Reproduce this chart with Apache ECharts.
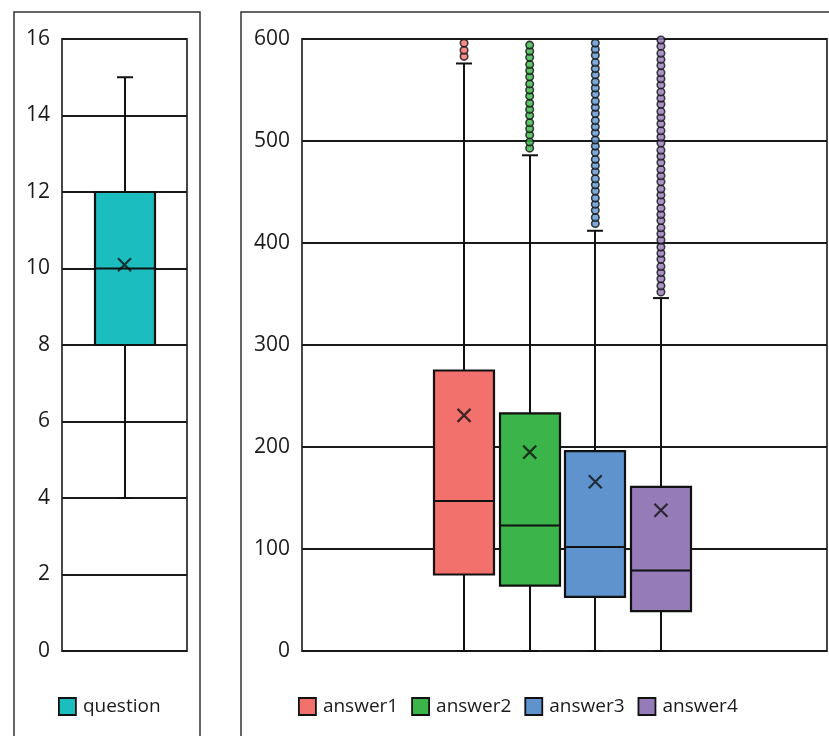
<!DOCTYPE html>
<html>
<head>
<meta charset="utf-8">
<script src="https://cdn.jsdelivr.net/npm/echarts@6/dist/echarts.min.js"></script>
<style>
  html, body { margin: 0; padding: 0; background: #fff; }
  #chart { width: 829px; height: 736px; }
</style>
</head>
<body>
<div id="chart"></div>
<script>
// left panel
const questionName = 'question';
const questionStats = [4, 8, 10, 12, 15]; // min, q1, median, q3, max
const questionMean = 10.1;
const leftTicks = [0, 16, 2];

// right panel: 8 slots on the category axis, the boxes sit in slots 2..5
const slots = ['s0', 's1', 's2', 's3', 's4', 's5', 's6', 's7'];
const answerNames = ['answer1', 'answer2', 'answer3', 'answer4'];
const answerSlots = [2, 3, 4, 5];
const answerMin = [0, 0, 0, 0];
const answerQ1 = [75, 64, 53, 39];
const answerMedian = [147, 123, 102, 79];
const answerQ3 = [275, 233, 196, 161];
const answerMax = [576, 486, 412, 346];
const answerMean = [231, 195, 166, 138];
const rightTicks = [0, 600, 100];

// outliers (the columns run on past 600, only this part is visible)
const outliers1 = [583, 589, 596, 602];
const outliers2 = [493, 499, 506, 512, 518, 525, 531, 537, 544, 550, 556, 563, 569, 575, 582, 588, 594, 601];
const outliers3 = [419, 425, 432, 438, 444, 451, 457, 463, 470, 476, 482, 489, 495, 501, 508, 514, 520, 527,
  533, 539, 546, 552, 558, 565, 571, 577, 584, 590, 596, 603];
const outliers4 = [352, 358, 365, 371, 377, 384, 390, 396, 403, 409, 415, 422, 428, 434, 441, 447, 453, 460,
  466, 472, 479, 485, 491, 498, 504, 510, 517, 523, 529, 536, 542, 548, 555, 561, 567, 574, 580, 586, 593, 599];
const answerOutliers = [outliers1, outliers2, outliers3, outliers4];

const questionColor = '#1bbdbf';
const answerColors = ['#f3716d', '#3bb54a', '#5f93cd', '#967bb9'];

const BOX_W = 60;
const CAP_W = 16;
const INK = '#111';
const font = "'Open Sans', 'Noto Sans', sans-serif";

const chart = echarts.init(document.getElementById('chart'));

// box + whiskers drawn by hand so the whisker caps stay short
const makeBox = (shift) => (params, api) => {
  const x = api.value(0);
  const lo = api.coord([x, api.value(1)]);
  const q1 = api.coord([x, api.value(2)]);
  const med = api.coord([x, api.value(3)]);
  const q3 = api.coord([x, api.value(4)]);
  const hi = api.coord([x, api.value(5)]);
  const cx = Math.round(lo[0]) + shift;
  const half = BOX_W / 2;
  const cap = CAP_W / 2;
  const line = { stroke: INK, lineWidth: 2 };
  return {
    type: 'group',
    children: [
      { type: 'line', shape: { x1: cx, y1: lo[1], x2: cx, y2: q1[1] }, style: line },
      { type: 'line', shape: { x1: cx, y1: q3[1], x2: cx, y2: hi[1] }, style: line },
      { type: 'line', shape: { x1: cx - cap, y1: lo[1], x2: cx + cap, y2: lo[1] }, style: line },
      { type: 'line', shape: { x1: cx - cap, y1: hi[1], x2: cx + cap, y2: hi[1] }, style: line },
      {
        type: 'rect',
        shape: { x: cx - half, y: q3[1], width: BOX_W, height: q1[1] - q3[1] },
        style: { fill: api.visual('color'), stroke: INK, lineWidth: 2.2 }
      },
      { type: 'line', shape: { x1: cx - half, y1: med[1], x2: cx + half, y2: med[1] }, style: line }
    ]
  };
};

function yAxisFor(ticks, gridIndex) {
  return {
    gridIndex: gridIndex,
    type: 'value',
    min: ticks[0],
    max: ticks[1],
    interval: ticks[2],
    axisLine: { show: false },
    axisTick: { show: false },
    axisLabel: { color: '#1a1a1a', fontSize: 21, fontFamily: font, margin: 12 },
    splitLine: { lineStyle: { color: '#1a1a1a', width: 2 } }
  };
}

const meanSymbol = 'path://M0,0L10,10M10,0L0,10';

const series = [
  {
    name: questionName,
    type: 'custom',
    xAxisIndex: 0,
    yAxisIndex: 0,
    renderItem: makeBox(0),
    itemStyle: { color: questionColor },
    encode: { x: 0, y: [1, 2, 3, 4, 5] },
    data: [[0].concat(questionStats)],
    z: 3
  },
  {
    name: 'mean-q',
    type: 'scatter',
    xAxisIndex: 0,
    yAxisIndex: 0,
    symbol: meanSymbol,
    symbolSize: 13,
    itemStyle: { color: 'none', borderColor: INK, borderWidth: 2.2 },
    data: [[0, questionMean]],
    z: 5
  }
];

answerNames.forEach((name, i) => {
  series.push({
    name: name,
    type: 'custom',
    xAxisIndex: 1,
    yAxisIndex: 1,
    renderItem: makeBox(-2),
    itemStyle: { color: answerColors[i] },
    encode: { x: 0, y: [1, 2, 3, 4, 5] },
    data: [[answerSlots[i], answerMin[i], answerQ1[i], answerMedian[i], answerQ3[i], answerMax[i]]],
    z: 3
  });
  series.push({
    name: name,
    type: 'scatter',
    xAxisIndex: 1,
    yAxisIndex: 1,
    symbol: 'circle',
    symbolSize: 7.5,
    symbolOffset: [-2, 0],
    itemStyle: { color: answerColors[i], borderColor: INK, borderWidth: 1.6 },
    data: answerOutliers[i].map(v => [answerSlots[i], v]),
    clip: true,
    z: 4
  });
});

series.push({
  name: 'mean-a',
  type: 'scatter',
  xAxisIndex: 1,
  yAxisIndex: 1,
  symbol: meanSymbol,
  symbolSize: 13,
  symbolOffset: [-2, 0],
  itemStyle: { color: 'none', borderColor: INK, borderWidth: 2.2 },
  data: answerSlots.map((s, i) => [s, answerMean[i]]),
  z: 5
});

const legendBase = {
  orient: 'horizontal',
  top: 692,
  icon: 'rect',
  itemWidth: 17,
  itemHeight: 17,
  itemGap: 13,
  itemStyle: { borderColor: INK, borderWidth: 1.8 },
  textStyle: { color: '#1a1a1a', fontSize: 19, fontFamily: font, padding: [0, 0, 0, 2] }
};

chart.setOption({
  animation: false,
  backgroundColor: '#fff',
  textStyle: { fontFamily: font },
  graphic: [
    { type: 'rect', shape: { x: 14, y: 12, width: 186, height: 760 }, style: { fill: 'none', stroke: '#333', lineWidth: 1.5 }, silent: true },
    { type: 'rect', shape: { x: 241, y: 12, width: 620, height: 760 }, style: { fill: 'none', stroke: '#333', lineWidth: 1.5 }, silent: true }
  ],
  grid: [
    { left: 62, top: 39, width: 125, height: 612, show: true, borderColor: '#333', borderWidth: 1.8 },
    { left: 302, top: 39, width: 525, height: 612, show: true, borderColor: '#333', borderWidth: 1.8 }
  ],
  xAxis: [
    { gridIndex: 0, type: 'category', data: [questionName], show: false },
    { gridIndex: 1, type: 'category', data: slots, show: false }
  ],
  yAxis: [yAxisFor(leftTicks, 0), yAxisFor(rightTicks, 1)],
  legend: [
    Object.assign({}, legendBase, { left: 53, data: [questionName] }),
    Object.assign({}, legendBase, { left: 293, data: answerNames })
  ],
  series: series
});

window.addEventListener('resize', () => chart.resize());
</script>
</body>
</html>
